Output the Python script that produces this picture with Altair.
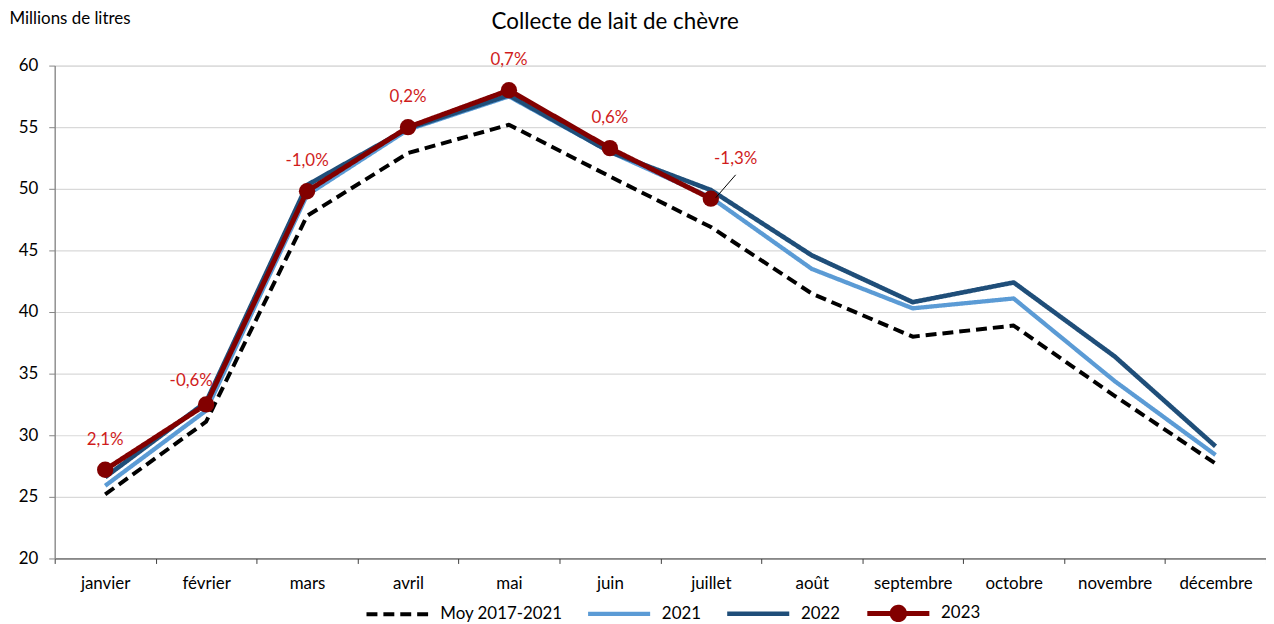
import altair as alt
import pandas as pd

# ---- data ----
months = ["janvier", "février", "mars", "avril", "mai", "juin", "juillet",
          "août", "septembre", "octobre", "novembre", "décembre"]
series_names = ["Moy 2017-2021", "2021", "2022", "2023"]
moy_2017_2021 = [25.2, 31.1, 47.8, 52.9, 55.2, 51.0, 46.9, 41.5, 38.0, 38.9, 33.2, 27.7]
v2021 = [25.9, 32.0, 49.5, 54.8, 57.5, 53.0, 49.3, 43.5, 40.3, 41.1, 34.4, 28.4]
v2022 = [26.6, 32.7, 50.3, 54.9, 57.6, 53.0, 49.9, 44.6, 40.8, 42.4, 36.4, 29.1]
v2023 = [27.2, 32.5, 49.8, 55.0, 58.0, 53.3, 49.2]
evolution = ["2,1%", "-0,6%", "-1,0%", "0,2%", "0,7%", "0,6%", "-1,3%"]
y_ticks = [20, 25, 30, 35, 40, 45, 50, 55, 60]

title_text = "Collecte de lait de chèvre"
y_title = "Millions de litres"

# ---- styles ----
FONT = "Lato"
FS = 17
colors = ["#000000", "#5B9BD5", "#1F4E79", "#820000"]
dashes = [[11, 6], [1, 0], [1, 0], [1, 0]]
widths = [4, 5, 5, 5.5]
# legend symbol paths (same vertical extent so entries line up)
BOUNDS = "M0,-0.3M0,0.3"
LINE_PATH = "M-1,0L1,0" + BOUNDS
DOT_PATH = ("M-1,0L1,0M0.2,0A0.2,0.2,0,1,1,-0.2,0A0.2,0.2,0,1,1,0.2,0Z" + BOUNDS)
shapes = [LINE_PATH, LINE_PATH, LINE_PATH, DOT_PATH]
LABEL_RED = "#d01c1c"

rows = []
for name, vals in zip(series_names, [moy_2017_2021, v2021, v2022, v2023]):
    for m, v in zip(months, vals):
        rows.append({"mois": m, "serie": name, "valeur": v})
df = pd.DataFrame(rows)
df23 = pd.DataFrame({"mois": months[:len(v2023)], "serie": "2023",
                     "valeur": v2023, "evol": evolution})

x_enc = alt.X("mois:N", sort=months,
              scale=alt.Scale(domain=months, paddingInner=0, paddingOuter=0),
              axis=alt.Axis(title=None, labelAngle=0, tickBand="extent",
                            domainColor="#404040", tickColor="#404040",
                            tickSize=5, labelPadding=12, grid=False,
                            labelFont=FONT, labelFontSize=FS, labelColor="#000000"))
y_scale = alt.Scale(domain=[20, 60], nice=False, zero=False)
y_enc = alt.Y("valeur:Q", scale=y_scale,
              axis=alt.Axis(values=y_ticks, title=y_title, titleAngle=0,
                            titleAlign="left", titleBaseline="middle",
                            titleX=-46, titleY=-47, titleFont=FONT,
                            titleFontSize=FS, titleFontWeight="normal",
                            titleColor="#000000",
                            grid=True, gridColor="#d9d9d9", gridWidth=1.2,
                            domainColor="#868686", domainWidth=1.3,
                            tickColor="#868686", tickSize=6, labelPadding=11,
                            labelFont=FONT, labelFontSize=FS, labelColor="#000000"))

color_scale = alt.Scale(domain=series_names, range=colors)
legend = alt.Legend(title=None, orient="none", direction="horizontal",
                    columns=4, legendX=311, legendY=517,
                    symbolSize=3900, symbolStrokeWidth=5, symbolOpacity=1,
                    labelFont=FONT, labelFontSize=FS, labelColor="#000000",
                    labelOffset=9, columnPadding=16)

lines = alt.Chart(df).mark_line(strokeCap="butt", strokeJoin="round").encode(
    x=x_enc,
    y=y_enc,
    color=alt.Color("serie:N", scale=color_scale, legend=legend),
    strokeDash=alt.StrokeDash("serie:N", scale=alt.Scale(domain=series_names, range=dashes), legend=legend),
    strokeWidth=alt.StrokeWidth("serie:N", scale=alt.Scale(domain=series_names, range=widths), legend=None),
)

# empty layer that only feeds the legend its symbol shapes
legend_shapes = alt.Chart(df23).mark_point(filled=True, strokeWidth=5, opacity=1).encode(
    x=alt.X("mois:N", sort=months),
    y=alt.Y("valeur:Q", scale=y_scale),
    color=alt.Color("serie:N", scale=color_scale, legend=legend),
    shape=alt.Shape("serie:N", scale=alt.Scale(domain=series_names, range=shapes), legend=legend),
).transform_filter("false")

points = alt.Chart(df23).mark_circle(size=270, opacity=1, color=colors[3]).encode(
    x=alt.X("mois:N", sort=months),
    y=alt.Y("valeur:Q", scale=y_scale),
)

text_style = dict(font=FONT, fontSize=FS, color=LABEL_RED, align="center", baseline="middle")
labels_main = alt.Chart(df23).mark_text(dy=-30, **text_style).encode(
    x=alt.X("mois:N", sort=months), y=alt.Y("valeur:Q", scale=y_scale), text="evol:N",
).transform_filter("datum.mois != 'février' && datum.mois != 'juillet'")
labels_feb = alt.Chart(df23).mark_text(dx=-15, dy=-24, **text_style).encode(
    x=alt.X("mois:N", sort=months), y=alt.Y("valeur:Q", scale=y_scale), text="evol:N",
).transform_filter("datum.mois == 'février'")
labels_jul = alt.Chart(df23).mark_text(dx=25, dy=-40, **text_style).encode(
    x=alt.X("mois:N", sort=months), y=alt.Y("valeur:Q", scale=y_scale), text="evol:N",
).transform_filter("datum.mois == 'juillet'")
leader = alt.Chart(df23).mark_rule(color="#000000", strokeWidth=1,
                                   xOffset=5, x2Offset=25, yOffset=-1, y2Offset=-24).encode(
    x=alt.X("mois:N", sort=months, bandPosition=0.5),
    x2=alt.X2("mois", bandPosition=0.5),
    y=alt.Y("valeur:Q", scale=y_scale),
    y2="valeur:Q",
).transform_filter("datum.mois == 'juillet'")

title = alt.Chart(pd.DataFrame({"t": [title_text]})).mark_text(
    font=FONT, fontSize=22.5, color="#000000", align="center", baseline="middle"
).encode(x=alt.value(564), y=alt.value(-44), text="t:N")

chart = alt.layer(lines, legend_shapes, points, leader, labels_main, labels_feb,
                  labels_jul, title).properties(
    width=1219, height=496,
    autosize=alt.AutoSizeParams(type="none"),
    padding={"left": 47, "top": 56, "right": 0, "bottom": 64},
).configure_view(stroke=None).configure(background="white")

chart.save("out.html", embed_options={"renderer": "svg", "actions": False})
